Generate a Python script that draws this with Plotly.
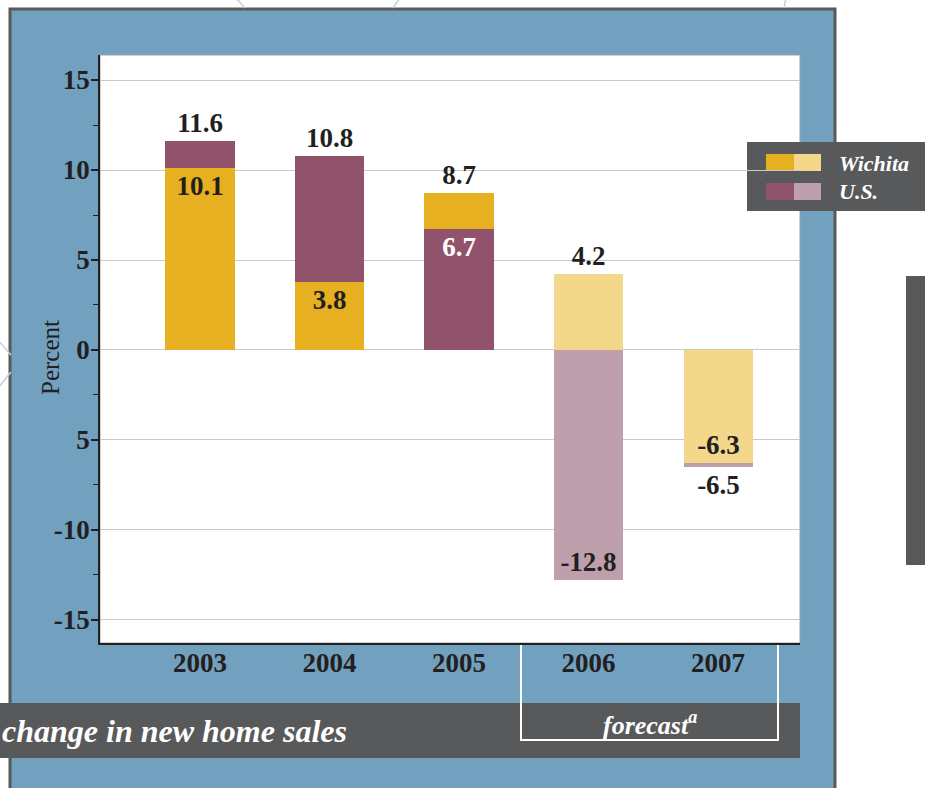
import plotly.graph_objects as go

# ---- data ----
years = ["2003", "2004", "2005", "2006", "2007"]
wichita = [10.1, 3.8, 8.7, 4.2, -6.3]
us = [11.6, 10.8, 6.7, -12.8, -6.5]
forecast = [False, False, False, True, True]
y_tickvals = [-15, -10, -5, 0, 5, 10, 15]
y_ticktext = ["-15", "-10", "5", "0", "5", "10", "15"]

# ---- styles ----
W_DARK, W_LIGHT = "#E6B020", "#F3D88B"
U_DARK, U_LIGHT = "#91526B", "#BDA0AB"
INK = "#231F20"
GRAY = "#58595B"
BLUE = "#72A0BF"
SERIF = "Liberation Serif, Times New Roman, serif"

# plot-area pixel box
PX0, PX1, PY0, PY1 = 100, 800, 55, 643


def px(x):
    return (x - PX0) / (PX1 - PX0)


def py(y):
    return (PY1 - y) / (PY1 - PY0)


def color(series, i):
    if series == "w":
        return W_LIGHT if forecast[i] else W_DARK
    return U_LIGHT if forecast[i] else U_DARK


# split into back (larger magnitude) and front (smaller) bars
back_v, back_c, back_pos, back_tc = [], [], [], []
front_v, front_c, front_pos, front_tc = [], [], [], []
for i in range(len(years)):
    w, u = wichita[i], us[i]
    same = (w >= 0) == (u >= 0)
    if abs(u) >= abs(w):
        (bv, bs), (fv, fs) = (u, "u"), (w, "w")
    else:
        (bv, bs), (fv, fs) = (w, "w"), (u, "u")
    back_v.append(bv)
    back_c.append(color(bs, i))
    front_v.append(fv)
    front_c.append(color(fs, i))
    if same:
        back_pos.append("outside")
        front_pos.append("inside")
    else:
        back_pos.append("outside" if bv > 0 else "inside")
        front_pos.append("outside" if fv > 0 else "inside")
    back_tc.append("white" if back_pos[-1] == "inside" and back_c[-1] == U_DARK else INK)
    front_tc.append("white" if front_pos[-1] == "inside" and front_c[-1] == U_DARK else INK)

fig = go.Figure()
for vals, cols, pos, tcs in [(back_v, back_c, back_pos, back_tc),
                             (front_v, front_c, front_pos, front_tc)]:
    fig.add_trace(go.Bar(
        x=years, y=vals, width=0.533,
        marker=dict(color=cols, line=dict(width=0)),
        text=[f"{v:.1f}" for v in vals],
        textposition=pos, insidetextanchor="end", textangle=0,
        constraintext="none", cliponaxis=False,
        textfont=dict(family=SERIF, size=27, color=tcs, weight="bold"),
        showlegend=False, hoverinfo="x+y",
    ))

shapes = [
    # blue panel
    dict(type="rect", x0=px(10), x1=px(835), y0=py(9), y1=py(800),
         fillcolor=BLUE, line=dict(color=GRAY, width=3)),
    # white plot area
    dict(type="rect", x0=0, x1=1, y0=0, y1=1, fillcolor="white",
         line=dict(color="#A0A0A0", width=1)),
    # bottom banner
    dict(type="rect", x0=px(-5), x1=px(800), y0=py(703), y1=py(758),
         fillcolor=GRAY, line=dict(width=0)),
    # forecast bracket
    dict(type="path",
         path=f"M {px(521)},{py(644)} L {px(521)},{py(740)} L {px(778)},{py(740)} L {px(778)},{py(644)}",
         line=dict(color="white", width=2)),
    # legend box
    dict(type="rect", x0=px(747), x1=px(930), y0=py(142), y1=py(211),
         fillcolor=GRAY, line=dict(width=0)),
    dict(type="rect", x0=px(766), x1=px(794), y0=py(154), y1=py(171),
         fillcolor=W_DARK, line=dict(width=0)),
    dict(type="rect", x0=px(794), x1=px(821), y0=py(154), y1=py(171),
         fillcolor=W_LIGHT, line=dict(width=0)),
    dict(type="rect", x0=px(766), x1=px(794), y0=py(183), y1=py(200),
         fillcolor=U_DARK, line=dict(width=0)),
    dict(type="rect", x0=px(794), x1=px(821), y0=py(183), y1=py(200),
         fillcolor=U_LIGHT, line=dict(width=0)),
    # right side gray bar
    dict(type="rect", x0=px(906), x1=px(930), y0=py(276), y1=py(565),
         fillcolor=GRAY, line=dict(width=0)),
]
# faint decorative curves outside the panel
for (xa, ya, xb, yb) in [(236, -2, 245, 8), (400, -2, 393, 8), (786, -2, 784, 8),
                         (-2, 340, 11, 355), (-2, 388, 11, 372)]:
    shapes.append(dict(type="line", x0=px(xa), y0=py(ya), x1=px(xb), y1=py(yb),
                       line=dict(color="#B7D3E6", width=1.5)))
for s in shapes:
    s.update(xref="paper", yref="paper", layer="below")

annotations = [
    dict(x=px(50), y=py(358), text="Percent", textangle=-90, xanchor="center",
         font=dict(family=SERIF, size=25, color=INK)),
    dict(x=px(837), y=py(163), text="<b><i>Wichita</i></b>", xanchor="left",
         font=dict(family=SERIF, size=22, color="white")),
    dict(x=px(837), y=py(191), text="<b><i>U.S.</i></b>", xanchor="left",
         font=dict(family=SERIF, size=22, color="white")),
    dict(x=px(0), y=py(731), text="<b><i>change in new home sales</i></b>", xanchor="left",
         font=dict(family=SERIF, size=32, color="white")),
    dict(x=px(650), y=py(723), text="<b><i>forecast<sup>a</sup></i></b>", xanchor="center",
         font=dict(family=SERIF, size=26, color="white")),
]
for a in annotations:
    a.update(xref="paper", yref="paper", yanchor="middle", showarrow=False)

fig.update_layout(
    width=925, height=788,
    margin=dict(l=PX0, r=925 - PX1, t=PY0, b=788 - PY1, pad=0),
    paper_bgcolor="white", plot_bgcolor="white",
    barmode="overlay", bargap=0,
    shapes=shapes, annotations=annotations,
    font=dict(family=SERIF, color=INK),
    xaxis=dict(
        type="category", range=[-0.772, 4.633],
        showline=True, linecolor=INK, linewidth=1.5,
        ticks="", showgrid=False, zeroline=False,
        tickfont=dict(family=SERIF, size=27, color=INK, weight="bold"),
        ticklabelstandoff=-5,
    ),
    yaxis=dict(
        range=[-16.28, 16.39],
        tickvals=y_tickvals, ticktext=y_ticktext,
        showline=True, linecolor=INK, linewidth=1.5,
        ticks="outside", ticklen=7, tickwidth=1.5, tickcolor=INK,
        showgrid=True, gridcolor="#C9C9C9", gridwidth=1,
        zeroline=False,
        tickfont=dict(family=SERIF, size=27, color=INK, weight="bold"),
        ticklabelstandoff=-4,
        minor=dict(dtick=2.5, tick0=0, ticks="outside", ticklen=5, tickwidth=1.2,
                   tickcolor=INK, showgrid=False),
    ),
)

fig.write_html(
    "out.html",
    config={"displayModeBar": False},
    post_script="document.body.style.margin='0';document.body.style.overflow='hidden';",
)
